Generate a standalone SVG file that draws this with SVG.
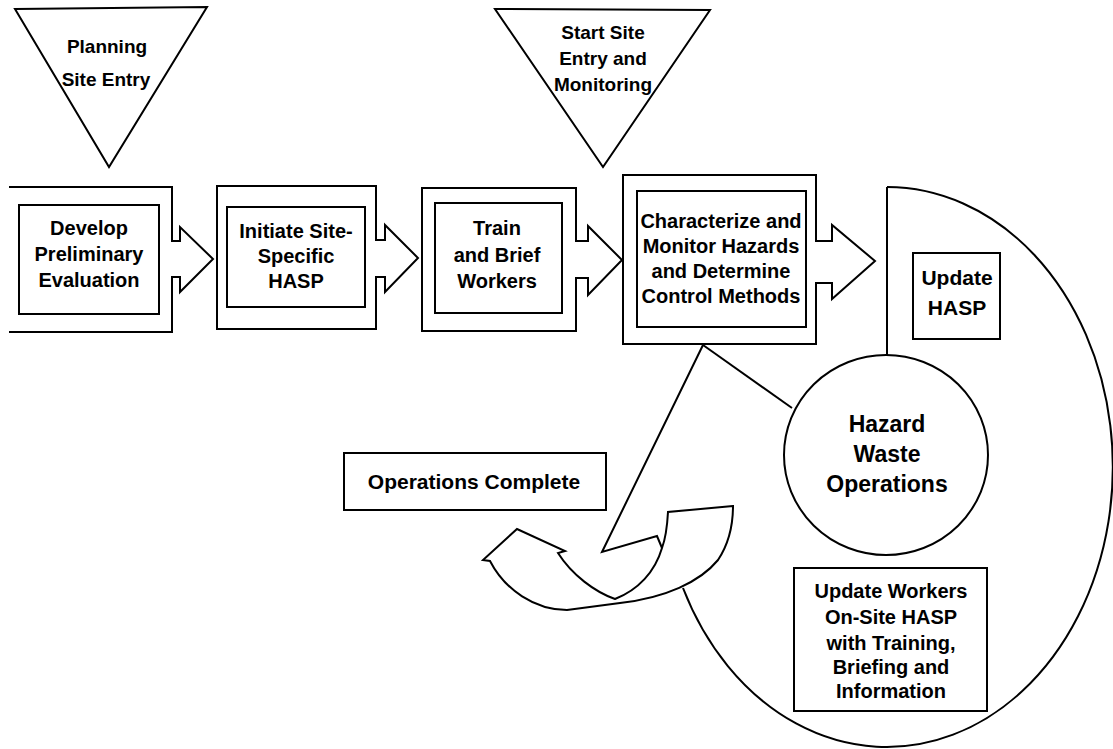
<svg xmlns="http://www.w3.org/2000/svg" width="1113" height="749" viewBox="0 0 1113 749">
<style>
.s{fill:#fff;stroke:#000;stroke-width:2;stroke-linejoin:miter}
.n{fill:none;stroke:#000;stroke-width:2}
.t{font-family:"Liberation Sans",Arial,sans-serif;font-weight:bold;fill:#000;text-anchor:middle}
.f19{font-size:19px}
.f20{font-size:20px}
.f21{font-size:21px}
.f23{font-size:23px}
</style>
<rect width="1113" height="749" fill="#fff"/>
<g id="connectors">
<path class="n" d="M887 187 A226 280 0 1 1 683 588"/>
<line class="n" x1="887" y1="187" x2="887" y2="355"/>
<line class="n" x1="703" y1="345" x2="792" y2="408"/>
<path class="n" d="M703 345 L602 552 L657 536 L662 548"/>
<path class="s" d="M733 506 L668 512 C667 530 665 540 662 548 C655 572 638 590 615 599 C595 592 572 575 558 553 L565 551 L517 529 L483 560 L490 561 C505 590 535 610 567 610 L620 603 C665 598 700 582 718 560 C728 545 733 525 733 506 Z"/>
</g>
<g id="tri-planning">
<polygon class="s" points="15,9 207,7 109,167"/>
<text class="t f19" x="107" y="53">Planning</text>
<text class="t f19" x="106" y="86">Site Entry</text>
</g>
<g id="tri-start">
<polygon class="s" points="495,9 710,10 603,167"/>
<text class="t f19" x="603" y="39">Start Site</text>
<text class="t f19" x="603" y="65">Entry and</text>
<text class="t f19" x="603" y="91">Monitoring</text>
</g>
<g id="box-develop">
<path class="s" d="M9 187 L172 187 L172 241 L180 241 L180 227 L213 259 L180 292 L180 277 L172 277 L172 332 L9 332"/>
<rect class="s" x="19" y="205" width="140" height="109"/>
<text class="t f20" x="89" y="235">Develop</text>
<text class="t f20" x="89" y="261">Preliminary</text>
<text class="t f20" x="89" y="287">Evaluation</text>
</g>
<g id="box-initiate">
<path class="s" d="M217 186 L376 186 L376 240 L385 240 L385 225 L418 258 L385 292 L385 277 L376 277 L376 329 L217 329 Z"/>
<rect class="s" x="227" y="207" width="138" height="100"/>
<text class="t f20" x="296" y="238">Initiate Site-</text>
<text class="t f20" x="296" y="263">Specific</text>
<text class="t f20" x="296" y="288">HASP</text>
</g>
<g id="box-train">
<path class="s" d="M422 188 L576 188 L576 241 L588 241 L588 226 L622 260 L588 295 L588 278 L576 278 L576 331 L422 331 Z"/>
<rect class="s" x="435" y="203" width="127" height="110"/>
<text class="t f20" x="497" y="235">Train</text>
<text class="t f20" x="497" y="262">and Brief</text>
<text class="t f20" x="497" y="288">Workers</text>
</g>
<g id="box-characterize">
<path class="s" d="M623 175 L816 175 L816 241 L832 241 L832 225 L875 261 L832 299 L832 283 L816 283 L816 344 L623 344 Z"/>
<rect class="s" x="637" y="191" width="169" height="136"/>
<text class="t f20" x="721" y="228">Characterize and</text>
<text class="t f20" x="721" y="253">Monitor Hazards</text>
<text class="t f20" x="721" y="278">and Determine</text>
<text class="t f20" x="721" y="303">Control Methods</text>
</g>
<g id="box-update-hasp">
<rect class="s" x="913" y="253" width="87" height="86"/>
<text class="t f21" x="957" y="285">Update</text>
<text class="t f21" x="957" y="315">HASP</text>
</g>
<g id="circle-hazard">
<ellipse class="s" cx="886" cy="455" rx="102" ry="100"/>
<text class="t f23" x="887" y="432">Hazard</text>
<text class="t f23" x="887" y="462">Waste</text>
<text class="t f23" x="887" y="492">Operations</text>
</g>
<g id="box-complete">
<rect class="s" x="344" y="453" width="262" height="57"/>
<text class="t f21" x="474" y="489">Operations Complete</text>
</g>
<g id="box-update-workers">
<rect class="s" x="794" y="568" width="193" height="143"/>
<text class="t f20" x="891" y="598">Update Workers</text>
<text class="t f20" x="891" y="624">On-Site HASP</text>
<text class="t f20" x="891" y="650">with Training,</text>
<text class="t f20" x="891" y="674">Briefing and</text>
<text class="t f20" x="891" y="698">Information</text>
</g>
</svg>
